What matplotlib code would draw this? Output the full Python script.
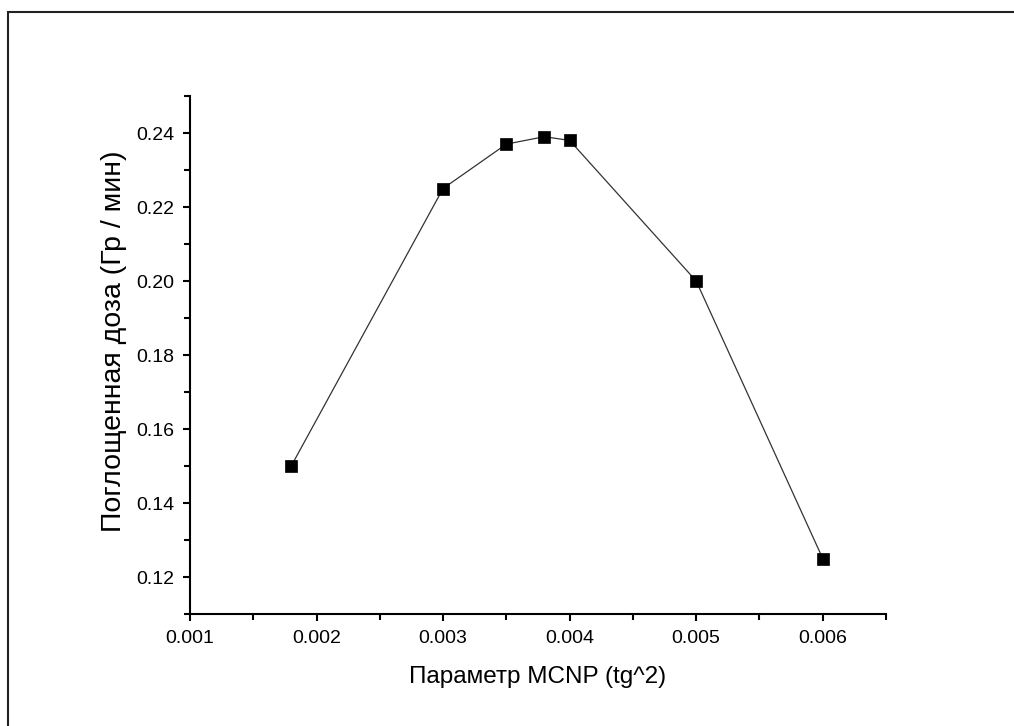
import matplotlib
matplotlib.use('Agg')
import matplotlib.pyplot as plt
from matplotlib.patches import Rectangle
from matplotlib.ticker import MultipleLocator

plt.rcParams['font.family'] = ['Liberation Sans', 'DejaVu Sans']

# данные
param = [0.0018, 0.0030, 0.0035, 0.0038, 0.0040, 0.0050, 0.0060]
dose = [0.150, 0.225, 0.237, 0.239, 0.238, 0.200, 0.125]
xticks = [0.001, 0.002, 0.003, 0.004, 0.005, 0.006]
yticks = [0.12, 0.14, 0.16, 0.18, 0.20, 0.22, 0.24]

fig = plt.figure(figsize=(10.14, 7.26), dpi=100)
ax = fig.add_axes([190 / 1014, 1 - 614 / 726, (886 - 190) / 1014, (614 - 96) / 726])

ax.plot(param, dose, '-', color='#333333', lw=0.9)
ax.plot(param, dose, 's', color='black', ms=8.5, mec='black', mew=0.5)

ax.set_xlim(0.001, 0.0065)
ax.set_ylim(0.11, 0.25)
ax.set_xticks(xticks)
ax.set_xticklabels(['%.3f' % v for v in xticks])
ax.set_yticks(yticks)
ax.set_yticklabels(['%.2f' % v for v in yticks])
ax.xaxis.set_minor_locator(MultipleLocator(0.0005))
ax.yaxis.set_minor_locator(MultipleLocator(0.01))

for s in ['top', 'right']:
    ax.spines[s].set_visible(False)
for s in ['left', 'bottom']:
    ax.spines[s].set_linewidth(1.5)
ax.tick_params(which='major', direction='out', length=5, width=1.5, labelsize=14)
ax.tick_params(axis='x', which='major', pad=6.5)
ax.tick_params(axis='y', which='major', pad=6.5)
ax.tick_params(which='minor', direction='out', length=4, width=1.5)

ax.set_xlabel('Параметр MCNP (tg^2)', fontsize=17.5)
ax.set_ylabel('Поглощенная доза (Гр / мин)', fontsize=20.5)
ax.xaxis.set_label_coords(0.5, -0.1)
ax.yaxis.set_label_coords(-0.091, 0.527)

# рамка вокруг рисунка
fig.patches.append(Rectangle((8 / 1014, -0.1), 1.2, 1 - 12 / 726 + 0.1,
                             transform=fig.transFigure, fill=False,
                             edgecolor='#222222', lw=1.5, zorder=10))

fig.savefig('out.png', dpi=100)
